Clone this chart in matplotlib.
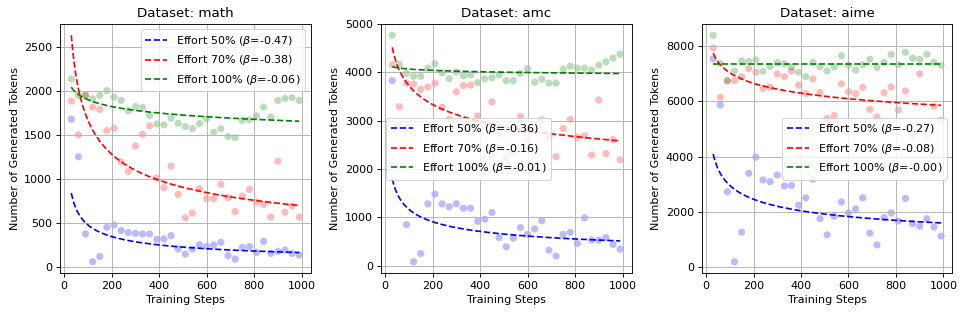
import numpy as np
import matplotlib
matplotlib.use("Agg")
import matplotlib.pyplot as plt

steps = list(range(30, 991, 30))
datasets = ["math", "amc", "aime"]
efforts = ["50%", "70%", "100%"]
colors = ["blue", "red", "green"]

math_50 = [1677, 1250, 373, 57, 118, 450, 476, 412, 389, 381, 373, 373, 312, 316, 354, 202, 145,
           202, 251, 232, 248, 278, 126, 88, 221, 229, 164, 290, 152, 175, 190, 152, 133]
math_70 = [1883, 1498, 1947, 1814, 1787, 1547, 1574, 1193, 1086, 1372, 1505, 1601, 1010, 899, 1143,
           823, 556, 610, 888, 774, 774, 937, 785, 629, 804, 880, 736, 709, 564, 1200, 621, 690, 564]
math_100 = [2134, 1947, 1947, 1909, 1947, 2001, 1928, 1890, 1772, 1822, 1810, 1719, 1623, 1612, 1688,
            1631, 1593, 1570, 1627, 1681, 1528, 1570, 1479, 1467, 1662, 1669, 1715, 1814, 1700, 1890,
            1913, 1921, 1890]

amc_50 = [3830, 2940, 850, 80, 250, 1280, 1480, 1280, 1220, 1280, 1190, 1190, 920, 960, 1100, 580,
          390, 570, 790, 650, 760, 930, 320, 200, 650, 690, 460, 990, 530, 530, 580, 440, 340]
amc_70 = [4160, 3290, 3780, 3760, 3650, 3700, 3780, 3280, 3030, 3600, 3730, 3740, 3100, 2900, 3390,
          2750, 2250, 2330, 3090, 2600, 2800, 3020, 2660, 2260, 2840, 3030, 2660, 2690, 2290, 3430,
          2320, 2610, 2190]
amc_100 = [4770, 4170, 3980, 3920, 3920, 4090, 4180, 3990, 3870, 4010, 3930, 3950, 3790, 3870, 3890,
           3950, 3830, 3830, 3980, 4080, 3800, 3860, 3780, 3780, 4070, 4130, 4090, 4090, 4050, 4150,
           4220, 4300, 4380]

aime_50 = [7546, 5873, 2723, 183, 1258, 3394, 3980, 3150, 3089, 3333, 2930, 2955, 2234, 2503, 3175,
           1746, 1160, 1832, 2357, 1954, 2100, 2503, 1221, 794, 1783, 1954, 1661, 2479, 1563, 1477,
           1746, 1441, 1111]
aime_70 = [7937, 6150, 6750, 6750, 6900, 7190, 7060, 6470, 6520, 7000, 6900, 7100, 6590, 6290, 6820,
           6330, 5380, 5490, 6640, 6350, 6280, 6510, 5710, 5430, 6320, 6520, 5690, 6380, 4800, 7000,
           4780, 5830, 5320]
aime_100 = [8400, 7380, 6750, 7100, 7470, 7450, 7510, 7090, 7270, 7400, 7370, 7240, 7060, 6900, 7420,
            7260, 7100, 7260, 7660, 7320, 7140, 7330, 7530, 7230, 7420, 7700, 7330, 7780, 7570, 7530,
            7710, 7420, 7310]

# power-law fits: y = start * (x / 30) ** beta
betas = {"math": [-0.47, -0.38, -0.06], "amc": [-0.36, -0.16, -0.01], "aime": [-0.27, -0.08, -0.00]}
fit_start = {"math": [838, 2630, 2040], "amc": [1800, 4520, 4120], "aime": [4090, 7750, 7370]}

series = {"math": [math_50, math_70, math_100],
          "amc": [amc_50, amc_70, amc_100],
          "aime": [aime_50, aime_70, aime_100]}
legend_loc = {"math": "upper right", "amc": "center left", "aime": "center right"}

fig, axes = plt.subplots(1, 3, figsize=(966 / 80, 315 / 80), dpi=80)
xs = np.array(steps, dtype=float)
xfit = np.linspace(steps[0], steps[-1], 300)
for ax, ds in zip(axes, datasets):
    for i, (eff, col) in enumerate(zip(efforts, colors)):
        ax.scatter(xs, series[ds][i], color=col, alpha=0.27, s=42, edgecolors="none")
    for i, (eff, col) in enumerate(zip(efforts, colors)):
        b = betas[ds][i]
        yfit = fit_start[ds][i] * (xfit / steps[0]) ** b
        ax.plot(xfit, yfit, "--", color=col, lw=1.5,
                label=f"Effort {eff} ($\\beta$={b:.2f})")
    ax.set_title(f"Dataset: {ds}")
    ax.set_xlabel("Training Steps")
    ax.set_ylabel("Number of Generated Tokens")
    ax.grid(True)
    ax.legend(loc=legend_loc[ds])

fig.subplots_adjust(left=0.062, right=0.986, top=0.924, bottom=0.133, wspace=0.28)
fig.savefig("out.png", dpi=80)
